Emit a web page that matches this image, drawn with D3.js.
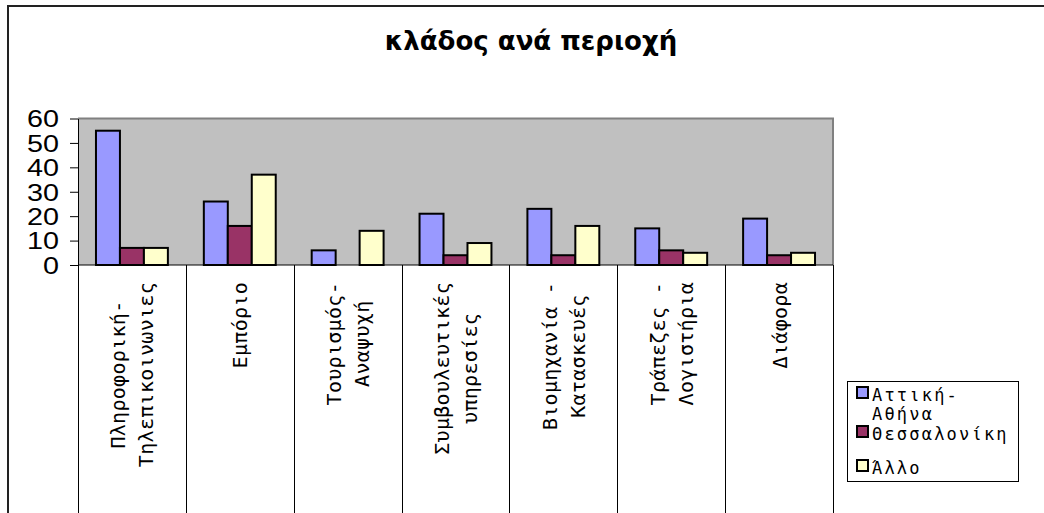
<!DOCTYPE html>
<html>
<head>
<meta charset="utf-8">
<script src="https://cdn.jsdelivr.net/npm/d3@7"></script>
<style>
  body { margin: 0; background: #fff; }
  svg { display: block; }
</style>
</head>
<body>
<svg id="chart" width="1044" height="513"></svg>
<script>
// Sector counts by region
const categories = [
  "Πληροφορική-\nΤηλεπικοινωνιες",
  "Εμπόριο",
  "Τουρισμός-\nΑναψυχή",
  "Συμβουλευτικές\nυπηρεσίες",
  "Βιομηχανία -\nΚατασκευές",
  "Τράπεζες -\nΛογιστήρια",
  "Διάφορα"
];
const seriesNames = ["Αττική-Αθήνα", "Θεσσαλονίκη", "Άλλο"];
const attikiValues = [55, 26, 6, 21, 23, 15, 19];
const thessalonikiValues = [7, 16, 0, 4, 4, 6, 4];
const alloValues = [7, 37, 14, 9, 16, 5, 5];
const yTicks = [0, 10, 20, 30, 40, 50, 60];
const seriesColors = ["#9999FF", "#993366", "#FFFFCC"];
const titleText = "κλάδος ανά περιοχή";

const seriesValues = [attikiValues, thessalonikiValues, alloValues];

const W = 1044, H = 513;
const plot = { left: 78, right: 833, top: 118.5, bottom: 265 };

const svg = d3.select("#chart");

// outer chart frame (top and left edges visible)
svg.append("rect")
  .attr("x", 8).attr("y", 6)
  .attr("width", W + 20).attr("height", H + 20)
  .attr("fill", "#fff")
  .attr("stroke", "#222").attr("stroke-width", 2);

// title
svg.append("text")
  .attr("x", 531).attr("y", 50)
  .attr("text-anchor", "middle")
  .attr("font-family", "'DejaVu Sans', sans-serif")
  .attr("font-weight", "bold")
  .attr("font-size", 26)
  .attr("fill", "#000")
  .text(titleText);

// scales
const x = d3.scaleBand()
  .domain(d3.range(categories.length))
  .range([plot.left, plot.right])
  .padding(0);

const xs = d3.scaleBand()
  .domain(d3.range(seriesNames.length))
  .range([0, x.bandwidth()])
  .paddingInner(0)
  .paddingOuter(0.75);

const y = d3.scaleLinear()
  .domain([0, 60])
  .range([plot.bottom, plot.top]);

// plot background
svg.append("rect")
  .attr("x", plot.left).attr("y", plot.top)
  .attr("width", plot.right - plot.left)
  .attr("height", plot.bottom - plot.top)
  .attr("fill", "#C0C0C0");

// plot border (top and right)
svg.append("path")
  .attr("d", `M${plot.left},${plot.top}H${plot.right}V${plot.bottom}`)
  .attr("fill", "none")
  .attr("stroke", "#808080")
  .attr("stroke-width", 2);

// bars
const groups = svg.append("g").selectAll("g")
  .data(categories.map((c, i) => ({ c, i })))
  .join("g")
  .attr("transform", d => `translate(${x(d.i)},0)`);

groups.selectAll("rect")
  .data(d => seriesValues.map((vals, s) => ({ s, v: vals[d.i] })).filter(e => e.v > 0))
  .join("rect")
  .attr("x", e => xs(e.s))
  .attr("y", e => y(e.v))
  .attr("width", xs.bandwidth())
  .attr("height", e => y(0) - y(e.v))
  .attr("fill", e => seriesColors[e.s])
  .attr("stroke", "#000")
  .attr("stroke-width", 2);

// y axis
const yAxis = svg.append("g")
  .attr("transform", `translate(${plot.left},0)`)
  .call(d3.axisLeft(y).tickValues(yTicks).tickSize(8).tickSizeOuter(0).tickFormat(d3.format("d")));
yAxis.select(".domain").attr("stroke", "#000");
yAxis.selectAll(".tick line").attr("stroke", "#000");
yAxis.selectAll(".tick text")
  .attr("font-family", "'Liberation Sans', Arial, sans-serif")
  .attr("font-size", 23)
  .attr("fill", "#000")
  .attr("x", -19 / 1.25)
  .attr("dy", "0.36em")
  .attr("transform", "scale(1.25,1)");

// category axis line and separators
svg.append("line")
  .attr("x1", plot.left).attr("x2", plot.right)
  .attr("y1", plot.bottom).attr("y2", plot.bottom)
  .attr("stroke", "#000");

const bounds = d3.range(categories.length + 1).map(i =>
  i < categories.length ? x(i) : x(categories.length - 1) + x.bandwidth());
svg.append("g").selectAll("line")
  .data(bounds)
  .join("line")
  .attr("x1", d => Math.round(d) + 0.5).attr("x2", d => Math.round(d) + 0.5)
  .attr("y1", plot.bottom).attr("y2", H)
  .attr("stroke", "#000");

// rotated category labels
const labelTop = 282;
const lineGap = 28;
const catLabels = svg.append("g").selectAll("g")
  .data(categories.map((c, i) => ({ lines: c.split("\n"), i })))
  .join("g")
  .attr("transform", d => `translate(${x(d.i) + x.bandwidth() / 2},${labelTop}) rotate(-90)`);

catLabels.each(function (d) {
  const g = d3.select(this);
  const n = d.lines.length;
  const texts = g.selectAll("text")
    .data(d.lines)
    .join("text")
    .attr("font-family", "'DejaVu Sans Mono', monospace")
    .attr("font-size", 20)
    .attr("letter-spacing", 0.3)
    .attr("fill", "#000")
    .attr("y", (t, k) => 7.5 + (k - (n - 1) / 2) * lineGap)
    .text(t => t);
  const maxLen = d3.max(texts.nodes(), nd => nd.getComputedTextLength());
  texts.attr("text-anchor", "middle").attr("x", -maxLen / 2);
});

// legend
const legend = svg.append("g");
legend.append("rect")
  .attr("x", 847.5).attr("y", 381.5)
  .attr("width", 171).attr("height", 100)
  .attr("fill", "#fff")
  .attr("stroke", "#000");

const ly = d3.scalePoint()
  .domain(d3.range(seriesNames.length))
  .range([387, 460]);

const itemTop = s => s === 1 ? 426 : ly(s);

const wrapLegend = s => {
  const h = s.indexOf("-");
  return s.length > 11 && h > 0 ? [s.slice(0, h + 1), s.slice(h + 1)] : [s];
};

const items = legend.selectAll("g.item")
  .data(seriesNames.map((name, s) => ({ name, s })))
  .join("g")
  .attr("class", "item")
  .attr("transform", d => `translate(857,${itemTop(d.s)})`);

items.append("rect")
  .attr("width", 11).attr("height", 11)
  .attr("fill", d => seriesColors[d.s])
  .attr("stroke", "#000")
  .attr("stroke-width", 2);

items.append("text")
  .attr("font-family", "'DejaVu Sans Mono', monospace")
  .attr("font-size", 17)
  .attr("letter-spacing", 2.2)
  .attr("fill", "#000")
  .selectAll("tspan")
  .data(d => wrapLegend(d.name))
  .join("tspan")
  .attr("x", 15)
  .attr("y", (t, k) => 14 + k * 19)
  .text(t => t);
</script>
</body>
</html>
